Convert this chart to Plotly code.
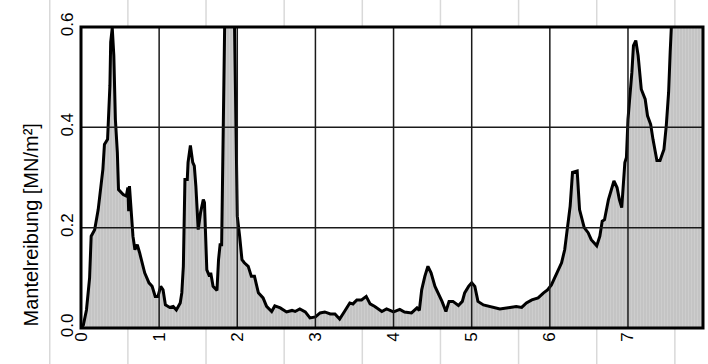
import plotly.graph_objects as go

depth = [0, 0.03, 0.07, 0.11, 0.13, 0.175, 0.22, 0.24, 0.28, 0.30, 0.34, 0.37, 0.38, 0.40, 0.42, 0.44, 0.465, 0.48,
         0.54, 0.58, 0.60, 0.61, 0.62, 0.665, 0.69, 0.72, 0.75, 0.815, 0.87, 0.91, 0.95, 0.985, 1.02, 1.05, 1.08,
         1.135, 1.18, 1.22, 1.27, 1.29, 1.31, 1.33, 1.36, 1.37, 1.40, 1.43, 1.45, 1.47, 1.50, 1.53, 1.565, 1.58,
         1.61, 1.645, 1.66, 1.69, 1.74, 1.76, 1.78, 1.80, 1.84, 1.88, 1.94, 1.965, 2.0, 2.03, 2.06, 2.09, 2.14,
         2.18, 2.22, 2.27, 2.33, 2.375, 2.44, 2.48, 2.55, 2.63, 2.70, 2.74, 2.80, 2.87, 2.93, 3.0, 3.06, 3.12,
         3.19, 3.25, 3.31, 3.38, 3.44, 3.48, 3.53, 3.59, 3.65, 3.70, 3.76, 3.85, 3.91, 4.0, 4.08, 4.14, 4.23,
         4.30, 4.33, 4.36, 4.40, 4.44, 4.48, 4.53, 4.57, 4.62, 4.67, 4.71, 4.76, 4.83, 4.88, 4.91, 4.96, 5.0,
         5.04, 5.08, 5.15, 5.23, 5.36, 5.49, 5.57, 5.64, 5.70, 5.77, 5.85, 5.92, 5.97, 6.02, 6.07, 6.12, 6.15,
         6.19, 6.22, 6.26, 6.29, 6.35, 6.38, 6.44, 6.49, 6.53, 6.60, 6.64, 6.67, 6.70, 6.75, 6.78, 6.82, 6.86,
         6.89, 6.92, 6.94, 6.96, 6.98, 7.0, 7.05, 7.07, 7.10, 7.13, 7.17, 7.22, 7.25, 7.29, 7.32, 7.35, 7.37,
         7.41, 7.46, 7.49, 7.52, 7.54, 7.57, 7.7, 7.96]

friction = [0, 0.006, 0.036, 0.10, 0.183, 0.196, 0.236, 0.263, 0.316, 0.366, 0.376, 0.483, 0.57, 0.598, 0.543, 0.416,
            0.35, 0.276, 0.266, 0.263, 0.28, 0.233, 0.283, 0.183, 0.156, 0.166, 0.15, 0.11, 0.09, 0.083, 0.063,
            0.063, 0.083, 0.076, 0.046, 0.041, 0.043, 0.036, 0.05, 0.07, 0.123, 0.296, 0.296, 0.33, 0.364, 0.33,
            0.323, 0.283, 0.196, 0.23, 0.256, 0.25, 0.116, 0.103, 0.11, 0.083, 0.075, 0.136, 0.166, 0.166, 0.62,
            0.75, 0.7, 0.6, 0.223, 0.183, 0.136, 0.13, 0.123, 0.103, 0.103, 0.07, 0.06, 0.043, 0.033, 0.044, 0.04,
            0.032, 0.035, 0.033, 0.038, 0.032, 0.02, 0.022, 0.03, 0.032, 0.028, 0.028, 0.018, 0.035, 0.05, 0.048,
            0.056, 0.056, 0.063, 0.048, 0.043, 0.033, 0.038, 0.032, 0.037, 0.032, 0.03, 0.04, 0.035, 0.076, 0.103,
            0.123, 0.11, 0.083, 0.07, 0.053, 0.033, 0.053, 0.053, 0.045, 0.053, 0.07, 0.083, 0.09, 0.083, 0.053,
            0.046, 0.043, 0.038, 0.041, 0.043, 0.041, 0.05, 0.056, 0.06, 0.07, 0.076, 0.086, 0.103, 0.12, 0.13,
            0.156, 0.19, 0.243, 0.31, 0.313, 0.236, 0.2, 0.19, 0.176, 0.164, 0.183, 0.213, 0.216, 0.256, 0.273,
            0.293, 0.28, 0.256, 0.24, 0.296, 0.33, 0.34, 0.416, 0.51, 0.563, 0.573, 0.543, 0.476, 0.456, 0.423,
            0.406, 0.376, 0.353, 0.334, 0.334, 0.356, 0.403, 0.47, 0.55, 0.65, 0.8, 0.8]

assert len(depth) == len(friction)

x_ticks = [0, 1, 2, 3, 4, 5, 6, 7]
y_ticks = [0.0, 0.2, 0.4, 0.6]
y_tick_labels = ["0.0", "0.2", "0.4", "0.6"]
y_title = "Mantelreibung [MN/m²]"
bg_lines = [-0.4, 0.6, 1.6, 2.6, 3.6, 4.6, 5.6, 6.6, 7.6]

X_RANGE = [0, 7.96]
Y_RANGE = [0, 0.6]

fig = go.Figure()
fig.add_trace(go.Scatter(
    x=depth, y=friction, mode="lines",
    line=dict(color="black", width=3),
    fill="tozeroy", fillcolor="#c6c6c6",
    fillpattern=dict(shape="|", fgcolor="#d8d8d8", bgcolor="#c4c4c4", size=3, solidity=0.3),
    hoverinfo="skip", showlegend=False,
))

shapes = []
span = X_RANGE[1] - X_RANGE[0]
for v in bg_lines:
    px = (v - X_RANGE[0]) / span
    if px < 0:
        shapes.append(dict(type="line", xref="paper", yref="paper", x0=px, x1=px, y0=-0.13, y1=1.1,
                           line=dict(color="#d9d9d9", width=1.5), layer="below"))
    else:
        for a, b in [(-0.13, 0), (1, 1.1)]:
            shapes.append(dict(type="line", xref="paper", yref="paper", x0=px, x1=px, y0=a, y1=b,
                               line=dict(color="#d9d9d9", width=1.5), layer="below"))
for v in x_ticks[1:]:
    shapes.append(dict(type="line", xref="x", yref="paper", x0=v, x1=v, y0=0, y1=1,
                       line=dict(color="#1a1a1a", width=1.5), layer="above"))
for v in y_ticks[1:-1]:
    shapes.append(dict(type="line", xref="paper", yref="y", x0=0, x1=1, y0=v, y1=v,
                       line=dict(color="#1a1a1a", width=1.5), layer="above"))
shapes.append(dict(type="rect", xref="paper", yref="paper", x0=0, x1=1, y0=0, y1=1,
                   line=dict(color="black", width=3), layer="above"))

fig.update_layout(
    width=708, height=364,
    margin=dict(l=81, r=5, t=27, b=36, autoexpand=False),
    paper_bgcolor="white", plot_bgcolor="white",
    font=dict(family="Liberation Sans, Arial, sans-serif", color="black"),
    shapes=shapes,
    xaxis=dict(range=X_RANGE, tickvals=x_ticks, ticktext=[str(v) for v in x_ticks],
               tickangle=-90, showgrid=False, zeroline=False, showline=False, ticks="",
               tickfont=dict(size=17)),
    yaxis=dict(range=Y_RANGE, tickvals=y_ticks, ticktext=y_tick_labels,
               tickangle=-90, showgrid=False, zeroline=False, showline=False, ticks="",
               ticklabelstandoff=4, tickfont=dict(size=17)),
    annotations=[dict(text=y_title, textangle=-90, xref="paper", yref="paper",
                      x=-0.0804, y=0, xanchor="center", yanchor="bottom",
                      showarrow=False, font=dict(size=20))],
)

fig.write_html("out.html")
